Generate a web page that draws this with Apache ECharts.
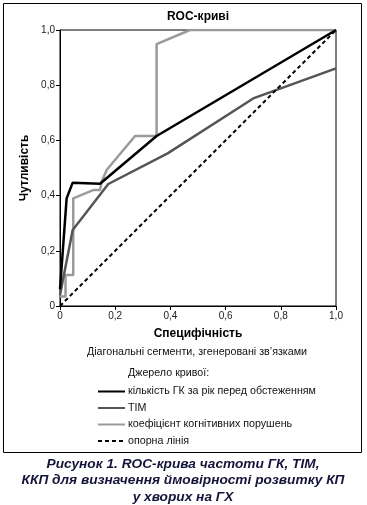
<!DOCTYPE html>
<html>
<head>
<meta charset="utf-8">
<script src="https://cdn.jsdelivr.net/npm/echarts@6/dist/echarts.min.js"></script>
<style>
html,body{margin:0;padding:0;background:#fff;}
#c{width:367px;height:505px;}
</style>
</head>
<body>
<div id="c"></div>
<script>
// Tick values
const xTicks = [0, 0.2, 0.4, 0.6, 0.8, 1.0];
const yTicks = [0, 0.2, 0.4, 0.6, 0.8, 1.0];

// Series names
const seriesNames = ['кількість ГК за рік перед обстеженням', 'TIM', 'коефіцієнт когнітивних порушень', 'опорна лінія'];

// кількість ГК за рік перед обстеженням (black)
const gkX = [0, 0.024, 0.046, 0.145, 0.35, 1.0];
const gkY = [0.06, 0.39, 0.447, 0.443, 0.616, 1.0];

// TIM (dark grey)
const timX = [0, 0.046, 0.175, 0.39, 0.70, 1.0];
const timY = [0.04, 0.275, 0.442, 0.553, 0.752, 0.861];

// ККП (light grey)
const kkpX = [0, 0.02, 0.02, 0.048, 0.048, 0.12, 0.145, 0.151, 0.169, 0.272, 0.35, 0.35, 0.471, 1.0];
const kkpY = [0.034, 0.034, 0.112, 0.112, 0.39, 0.42, 0.42, 0.45, 0.493, 0.616, 0.616, 0.949, 1.0, 1.0];

// reference line
const refX = [0, 1];
const refY = [0, 1];

function zip(xs, ys){ return xs.map((x,i)=>[x, ys[i]]); }
function fmt(v){ return v === 0 ? '0' : v.toFixed(1).replace('.', ','); }

const FONT = '"Liberation Sans", Arial, sans-serif';
const chart = echarts.init(document.getElementById('c'), null, {renderer:'canvas'});

chart.setOption({
  animation: false,
  backgroundColor: '#fff',
  textStyle: {fontFamily: FONT},
  grid: {left: 60, right: 31, top: 30, bottom: 199, show: true, borderColor: '#000', borderWidth: 1},
  xAxis: {
    type: 'value', min: xTicks[0], max: xTicks[xTicks.length-1], interval: 0.2,
    name: 'Специфічність', nameLocation: 'middle', nameGap: 22,
    nameTextStyle: {fontFamily: FONT, fontWeight: 'bold', fontSize: 12, color: '#000'},
    axisLine: {show: true, lineStyle: {color: '#000', width: 1}},
    axisTick: {show: true, length: 4, lineStyle: {color: '#000'}},
    axisLabel: {formatter: fmt, fontFamily: FONT, fontSize: 10, color: '#222', margin: 5},
    splitLine: {show: false}
  },
  yAxis: {
    type: 'value', min: yTicks[0], max: yTicks[yTicks.length-1], interval: 0.2,
    name: 'Чутливість', nameLocation: 'middle', nameGap: 23, nameRotate: 90,
    nameTextStyle: {fontFamily: FONT, fontWeight: 'bold', fontSize: 12, color: '#000'},
    axisLine: {show: true, lineStyle: {color: '#000', width: 1}},
    axisTick: {show: true, length: 4, lineStyle: {color: '#000'}},
    axisLabel: {formatter: fmt, fontFamily: FONT, fontSize: 10, color: '#222', margin: 5},
    splitLine: {show: false}
  },
  legend: {
    orient: 'vertical', left: 97, top: 386, itemWidth: 27, itemHeight: 12, itemGap: 5.5,
    padding: 0,
    itemStyle: {opacity: 0},
    textStyle: {fontFamily: FONT, fontSize: 10.7, color: '#111', padding: [0,0,0,-2]},
    data: seriesNames
  },
  series: [
    {name: seriesNames[0], type: 'line', data: zip(gkX, gkY), symbol: 'none', z: 4,
     lineStyle: {color: '#000', width: 2.5}, itemStyle: {color: '#000'}},
    {name: seriesNames[1], type: 'line', data: zip(timX, timY), symbol: 'none', z: 3,
     lineStyle: {color: '#555', width: 2.5}, itemStyle: {color: '#555'}},
    {name: seriesNames[2], type: 'line', data: zip(kkpX, kkpY), symbol: 'none', z: 2,
     lineStyle: {color: '#9a9a9a', width: 2.5}, itemStyle: {color: '#9a9a9a'}},
    {name: seriesNames[3], type: 'line', data: zip(refX, refY), symbol: 'none', z: 5,
     lineStyle: {color: '#000', width: 2, type: [4, 3]}, itemStyle: {color: '#000'}}
  ],
  graphic: [
    {type: 'rect', shape: {x: 3.5, y: 3.5, width: 358, height: 449}, style: {fill: 'none', stroke: '#000', lineWidth: 1}, z: -1},
    {type: 'text', x: 198, y: 17, style: {text: 'ROC-криві', font: 'bold 12px ' + FONT, fill: '#000', textAlign: 'center', textVerticalAlign: 'middle'}},
    {type: 'text', x: 197, y: 352, style: {text: 'Діагональні сегменти, згенеровані зв\u2019язками', font: '10.7px ' + FONT, fill: '#111', textAlign: 'center', textVerticalAlign: 'middle'}},
    {type: 'text', x: 128, y: 373, style: {text: 'Джерело кривої:', font: '10.7px ' + FONT, fill: '#111', textAlign: 'left', textVerticalAlign: 'middle'}},
    {type: 'text', x: 183, y: 464, style: {text: 'Рисунок 1. ROC-крива частоти ГК, TIM,', font: 'italic bold 13.7px ' + FONT, fill: '#14143a', textAlign: 'center', textVerticalAlign: 'middle'}},
    {type: 'text', x: 183, y: 480.5, style: {text: 'ККП для визначення ймовірності розвитку КП', font: 'italic bold 13.7px ' + FONT, fill: '#14143a', textAlign: 'center', textVerticalAlign: 'middle'}},
    {type: 'text', x: 183, y: 497, style: {text: 'у хворих на ГХ', font: 'italic bold 13.7px ' + FONT, fill: '#14143a', textAlign: 'center', textVerticalAlign: 'middle'}}
  ]
});
</script>
</body>
</html>
